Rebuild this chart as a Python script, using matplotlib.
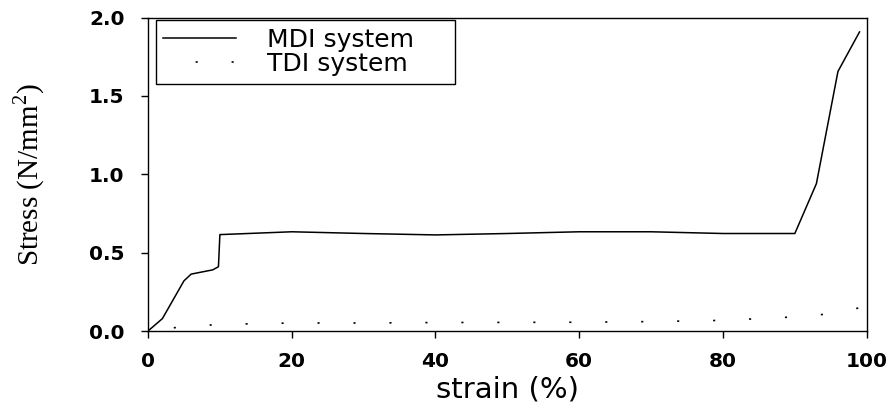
import matplotlib
matplotlib.use("Agg")
import matplotlib.pyplot as plt
from matplotlib.lines import Line2D

# Data
mdi_strain = [0, 2, 5, 6, 9, 9.8, 10, 20, 30, 40, 50, 60, 70, 80, 90, 93, 96, 99]
mdi_stress = [0, 0.079, 0.32, 0.363, 0.39, 0.41, 0.615, 0.633, 0.622, 0.613,
              0.622, 0.633, 0.633, 0.622, 0.622, 0.94, 1.656, 1.908]
tdi_strain = [0, 2, 5, 10, 20, 30, 40, 50, 60, 70, 80, 90, 95, 99]
tdi_stress = [0, 0.012, 0.028, 0.042, 0.051, 0.051, 0.054, 0.055, 0.056,
              0.060, 0.068, 0.090, 0.11, 0.148]
x_ticks = [0, 20, 40, 60, 80, 100]
y_ticks = [0.0, 0.5, 1.0, 1.5, 2.0]
y_tick_labels = ["0.0", "0.5", "1.0", "1.5", "2.0"]

plt.rcParams["mathtext.fontset"] = "custom"
plt.rcParams["mathtext.rm"] = "Liberation Serif"

fig = plt.figure(figsize=(8.96, 4.12), dpi=100)
ax = fig.add_axes([0.1652, 0.1966, 0.8021, 0.7609])

dot_style = (6.0, (1.25, 20.33))
ax.plot(mdi_strain, mdi_stress, color="black", lw=1.1, label="MDI system")
ax.plot(tdi_strain, tdi_stress, color="black", lw=1.2,
        linestyle=dot_style, label="TDI system")

ax.set_xlim(0, 100)
ax.set_ylim(0, 2.0)
ax.set_xticks(x_ticks)
ax.set_yticks(y_ticks)
ax.set_yticklabels(y_tick_labels)
ax.tick_params(direction="out", length=5, width=1, labelsize=14.5)
ax.tick_params(axis="x", pad=10)
ax.tick_params(axis="y", pad=12)
for lab in ax.get_xticklabels() + ax.get_yticklabels():
    lab.set_fontfamily("DejaVu Sans")
    lab.set_fontweight("bold")
for s in ax.spines.values():
    s.set_linewidth(1.0)

ax.set_xlabel("strain (%)", fontfamily="DejaVu Sans", fontsize=21, labelpad=3)
ax.set_ylabel("Stress (N/mm$^2$)", fontfamily="Liberation Serif", fontsize=21)
ax.yaxis.set_label_coords(-0.14, 0.5)

handles = [Line2D([], [], color="black", lw=1.1),
           Line2D([], [], color="black", lw=1.2, linestyle=(2.0, (1.25, 20.33)))]
leg = ax.legend(handles, ["MDI system", "TDI system"], loc="upper left",
                bbox_to_anchor=(0.0111, 0.5, 0.416, 0.492), mode="expand",
                prop={"family": "DejaVu Sans", "size": 18},
                frameon=True, fancybox=False, edgecolor="black", framealpha=1,
                handlelength=2.9, handletextpad=1.25, borderpad=0.3,
                labelspacing=0.02, borderaxespad=0.0)
leg.get_frame().set_linewidth(1.0)

fig.savefig("out.png", dpi=100)
